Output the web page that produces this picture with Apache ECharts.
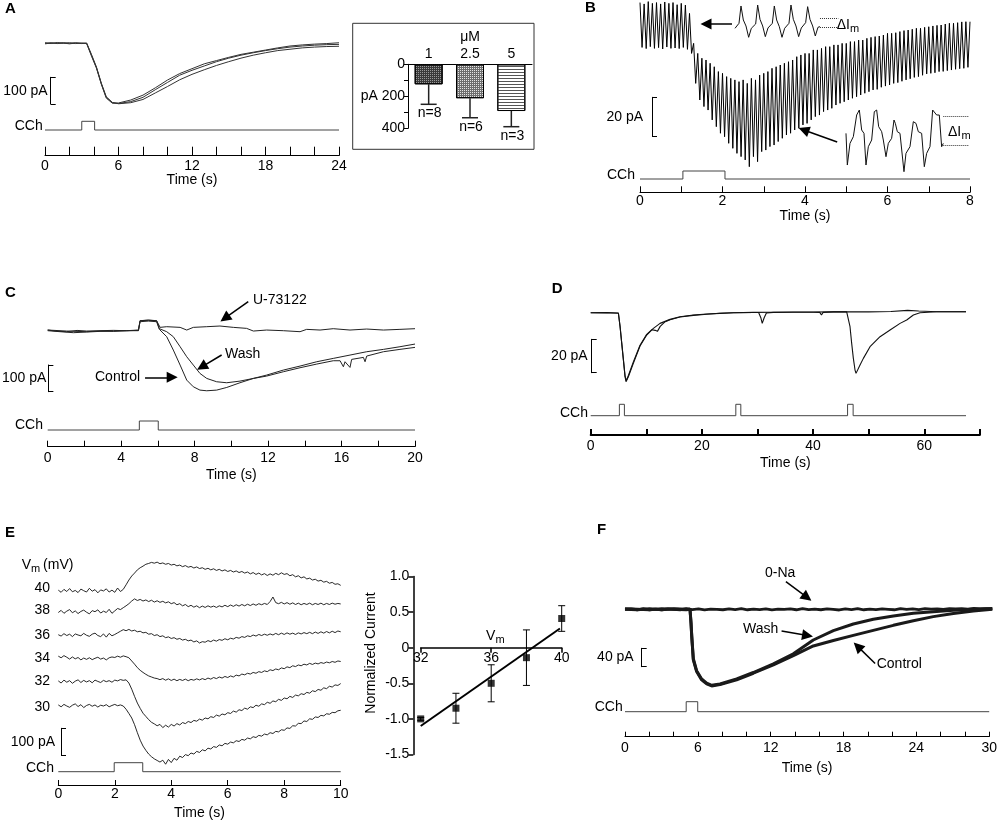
<!DOCTYPE html>
<html>
<head>
<meta charset="UTF-8">
<title>CCh-evoked currents</title>
<script src="https://cdn.jsdelivr.net/npm/echarts@6.0.0/dist/echarts.min.js"></script>
<style>
    * { margin: 0; padding: 0; }
    body { background: #fff; }
    #chart { width: 1000px; height: 822px; }
</style>
</head>
<body>
<div id="chart"></div>
<script>
// ---------------- data (t in s, current in pA) ----------------

// A: three superimposed responses
var A_TR1 = [[0,2],[0.5,-1],[1,3],[1.5,0],[2,2],[2.5,-1],[3,1],[3.4,0],[3.8,-45],[4.2,-90],[4.6,-150],[5.0,-200],[5.5,-220],[6,-223],[7,-216],[8,-200],[9,-172],[10,-145],[11,-118],[12,-100],[13,-84],[14,-68],[15,-55],[16,-44],[17,-35],[18,-27],[19,-20],[20,-14],[21,-10],[22,-7],[23,-5],[24,-4]];
var A_TR2 = [[0,0],[0.5,2],[1,-1],[1.5,1],[2,-2],[2.5,1],[3,-1],[3.4,1],[3.8,-42],[4.2,-88],[4.6,-148],[5.0,-198],[5.5,-219],[6,-224],[7,-220],[8,-208],[9,-184],[10,-160],[11,-135],[12,-115],[13,-98],[14,-82],[15,-68],[16,-55],[17,-44],[18,-35],[19,-27],[20,-22],[21,-17],[22,-14],[23,-12],[24,-11]];
var A_TR3 = [[0,-2],[0.5,1],[1,0],[1.5,2],[2,0],[2.5,2],[3,0],[3.4,-1],[3.8,-48],[4.2,-92],[4.6,-152],[5.0,-203],[5.5,-222],[6,-221],[7,-210],[8,-192],[9,-165],[10,-136],[11,-112],[12,-94],[13,-76],[14,-64],[15,-52],[16,-41],[17,-33],[18,-25],[19,-17],[20,-10],[21,-6],[22,-3],[23,-1],[24,2]];
var A_CCH = [[3.0, 4.05]];
// A inset: peak amplitude vs CCh concentration
var CONC = ['1', '2.5', '5'];
var AMP = [125, 212, 292];
var AMP_SE = [125, 122, 98];
var NCELLS = [8, 6, 3];

// B: oscillating current, spike tops / bottoms every 0.1 s
var B_DT = 0.1;
var B_TOP = [11.6,10.9,12.1,11.2,11.6,10.9,11.9,11.2,11.6,10.5,11.2,10.3,6.0,-9.5,-14.7,-17.2,-18.1,-19.8,-21.6,-24.1,-25.0,-26.7,-27.6,-28.4,-29.3,-28.4,-30.2,-27.6,-28.4,-25.9,-25.0,-24.1,-22.4,-21.6,-20.7,-19.8,-19.0,-18.1,-16.4,-15.5,-14.7,-14.7,-12.9,-12.9,-12.1,-11.2,-11.2,-10.3,-10.3,-9.5,-9.5,-8.6,-8.6,-7.8,-7.8,-6.9,-6.4,-6.0,-5.7,-5.2,-4.3,-4.3,-4.0,-3.4,-2.9,-2.6,-2.2,-1.7,-1.7,-1.2,-0.9,-0.5,-0.2,0,0.5,0.9,0.9,1.2,1.6,1.7,1.7];
var B_BOT = [-11.6,-12.2,-11.2,-12.1,-11.7,-12.4,-11.4,-12.1,-11.9,-12.2,-11.6,-12.6,-14.7,-30.2,-38.8,-42.2,-44.0,-49.1,-52.6,-56.0,-57.8,-61.2,-63.8,-66.4,-68.1,-69.8,-73.3,-68.1,-70.7,-65.5,-64.7,-62.9,-62.1,-60.3,-58.6,-56.9,-56.0,-54.3,-53.4,-51.7,-50.9,-49.1,-47.4,-46.6,-44.8,-44.0,-43.1,-41.4,-40.5,-39.7,-38.8,-37.9,-37.1,-36.2,-35.3,-34.5,-33.6,-33.3,-32.2,-31.6,-31.0,-30.2,-29.8,-29.1,-28.4,-27.8,-27.1,-26.7,-26.0,-25.3,-25.0,-24.7,-24.1,-24.0,-23.6,-23.3,-22.9,-22.6,-22.4,-21.9,-21.6];
var B_CCH = [[1.04, 2.06]];
// B insets: expanded stretches (ms, relative current)
var B_IN1_T = [0,24,36,50,66,82,98,124,136,150,166,182,198,224,236,250,266,282,298,324,336,350,366,382,398,424,436,450,466,482,498,510];
var B_IN1_V = [3.0,4.5,9.7,5.5,3.7,0.3,3.0,4.3,10,5.7,3.7,0.5,3.1,4.5,9.7,5.5,3.5,0.3,3.0,4.5,10,5.7,3.7,0.5,3.1,4.7,9.5,5.7,3.7,0.7,3.3,3.5];
var B_IN1_DI = [6.0, 3.3];
var B_IN2_T = [6,14,30,50,70,86,100,114,126,140,160,176,190,202,220,230,246,260,280,294,302,314,330,354,366,390,410,426,440,460,476,490,510,526,550,566,580,590];
var B_IN2_V = [11.5,2.0,8.5,10.5,17.0,18.5,12.5,11.5,2.0,7.5,9.5,18.0,18.5,13.5,12.0,9.5,4.5,8.5,10.0,15.5,14.5,12.0,11.5,0,5.5,7.5,15.0,14.5,12.0,11.5,1.5,5.5,7.5,18.5,17.0,17.0,7.5,8.5];
var B_IN2_DI = [16.5, 8.0];

// C: control, U-73122, wash
var C_CTRL = [[0,0],[0.67,-3.75],[1.40,-7.5],[2.12,-5],[2.85,-2.5],[3.58,-1.25],[4.30,0],[4.94,2.5],[5.03,33.75],[5.48,36],[5.93,33.75],[6.08,5],[6.48,-22.5],[6.84,-72.5],[7.21,-128.75],[7.57,-185],[7.93,-210],[8.29,-222.5],[8.66,-225],[9.20,-222.5],[9.75,-212.5],[10.47,-195],[11.20,-178.75],[11.92,-166.25],[12.83,-147.5],[13.74,-132.5],[14.65,-116.25],[15.55,-103.75],[16.46,-91.25],[17.37,-78.75],[18.28,-70],[19.18,-60],[20,-50]];
var C_WASH = [[0,2.5],[1.03,-1.25],[2.12,-3.75],[2.85,-1.25],[3.58,-2.5],[4.30,0],[4.94,1.25],[5.03,37.5],[5.48,40],[5.93,37.5],[6.08,7.5],[6.48,-3.75],[6.84,-22.5],[7.21,-60],[7.57,-97.5],[7.93,-128.75],[8.29,-160],[8.66,-178.75],[9.20,-191.25],[9.75,-195],[10.47,-188.75],[11.20,-178.75],[11.92,-170],[12.83,-153.75],[13.74,-138.75],[14.65,-125],[15.55,-112.5],[15.92,-112.5],[16.10,-135],[16.19,-116.25],[16.46,-137.5],[16.55,-107.5],[17.19,-100],[17.28,-116.25],[17.37,-95],[18.28,-78.75],[19.18,-70],[20,-62.5]];
var C_U73 = [[0,2.5],[0.5,-2],[1.03,-3.75],[1.6,1],[2.12,-1.25],[2.85,0],[3.58,1.25],[4.30,0],[4.94,0],[5.03,37.5],[5.48,39],[5.93,37.5],[6.12,12.5],[6.48,15],[7.21,12.5],[7.57,2.5],[7.93,12.5],[8.66,15],[9.38,17.5],[10.11,12.5],[10.83,8.75],[11.20,-1.25],[11.92,2.5],[12.83,0],[13.74,-3.75],[14.10,5],[14.83,2.5],[15.55,7.5],[16.46,2.5],[17.37,6.25],[18.28,2.5],[19.18,5],[20,7.5]];
var C_CCH = [[4.99, 6.02]];

// D: three CCh applications
var D_TR1 = [[0,0],[2.9,0.1],[4.98,-0.3],[5.28,-8.4],[5.58,-18.4],[5.88,-28.4],[6.18,-38.4],[6.35,-41.4],[6.77,-38.4],[7.67,-30.4],[8.87,-20],[10.07,-13.4],[11.27,-9.4],[12.47,-6.4],[14.27,-4],[16.07,-2.4],[18.47,-1.4],[20.86,-0.8],[23.26,-0.4],[25.66,0],[29.26,0.2],[32.85,0.3],[36.45,0.4],[40.05,0.4],[43.65,0.5],[46.04,0.5],[46.34,0],[46.64,-8.4],[46.94,-18.4],[47.24,-27.4],[47.54,-34.4],[47.72,-36.4],[48.44,-31.4],[49.04,-27.4],[50.24,-20.4],[52.04,-14.4],[53.84,-10.4],[55.64,-6.4],[56.83,-4.4],[58.03,-1.4],[59.23,0],[62.23,0.6],[67.5,0.6]];
var D_TR2 = [[0,0],[2.9,-0.1],[4.98,-0.2],[5.28,-8.0],[5.58,-18.0],[5.88,-28.0],[6.18,-38.0],[6.4,-40.8],[6.8,-37.5],[7.67,-29.5],[8.87,-19.5],[10.07,-13],[11.0,-10.2],[11.6,-10.6],[12.0,-11.2],[12.5,-8.2],[13.3,-5.6],[14.27,-4.2],[16.07,-2.6],[18.47,-1.6],[20.86,-0.9],[23.26,-0.3],[25.66,0],[29.26,0.1],[30.2,0.1],[30.6,-3],[30.85,-6.4],[31.2,-3],[31.6,-0.2],[32.85,0.2],[36.45,0.3],[40.05,0.3],[41.2,0.2],[41.5,-1.4],[41.8,0.2],[43.65,0.5],[46.04,0.5],[50,0.5],[54,0.7],[57,1.4],[59,1.0],[62.23,0.6],[67.5,0.6]];
var D_CCH = [[5.16, 6.06], [26.1, 27.0], [46.2, 47.2]];

// E: responses at different holding potentials, sampled every 0.1 s
var E_DT = 0.1;
var E_VM = [40, 38, 36, 34, 32, 30];
var E_40 = [2,-6,5,-3,8,-4,1,-7,6,0,-5,9,-2,4,-8,3,-1,7,-5,2,-6,10,-3,5,22,40,55,66,78,86,92,99,102,106,103,107,101,104,99,102,96,99,93,96,90,94,88,91,85,89,83,86,80,84,78,82,76,80,74,78,72,76,70,74,68,72,66,70,63,68,61,66,59,64,57,63,58,65,60,67,61,64,56,60,52,56,48,52,44,47,40,43,36,39,32,35,28,31,24,26,20];
var E_38 = [-3,5,-6,2,8,-4,3,-7,1,6,-2,-8,4,0,7,-5,2,-3,9,-6,3,12,8,15,22,30,40,48,42,46,40,44,38,43,36,41,35,39,33,37,30,34,26,30,22,27,19,24,17,22,15,21,16,22,17,21,16,22,18,24,19,25,20,26,21,27,22,28,23,29,24,30,26,31,27,38,55,34,30,35,29,34,28,33,27,32,26,31,27,32,26,31,27,32,26,31,27,32,28,31,29];
var E_36 = [1,-4,5,-2,3,-6,4,0,-3,6,-1,-5,3,7,-2,-6,4,-8,6,-3,2,8,14,20,16,21,15,18,12,14,8,10,3,5,-2,1,-6,-3,-10,-7,-13,-10,-16,-13,-19,-16,-22,-19,-26,-22,-30,-25,-27,-21,-25,-19,-23,-17,-20,-14,-18,-12,-15,-9,-12,-6,-9,-3,-6,0,-4,2,-2,3,-1,4,0,6,1,7,2,8,3,7,2,8,4,9,5,10,5,11,6,12,7,13,8,14,9,15,12];
var E_34 = [8,2,10,4,-3,5,-2,3,-6,1,-4,2,-5,0,4,-3,1,-6,2,5,3,8,4,9,6,2,-10,-22,-35,-45,-53,-60,-66,-70,-74,-76,-80,-76,-82,-77,-83,-78,-84,-79,-83,-78,-84,-79,-82,-77,-81,-76,-80,-74,-78,-72,-76,-70,-74,-68,-72,-66,-70,-63,-66,-59,-62,-56,-59,-53,-56,-50,-53,-47,-50,-43,-46,-40,-43,-36,-39,-32,-35,-28,-31,-25,-28,-22,-25,-19,-23,-18,-21,-16,-19,-14,-17,-12,-15,-10,-12];
var E_32 = [3,-5,6,-2,4,-6,2,7,-3,5,-1,4,-4,6,1,-3,5,0,4,-2,6,3,8,5,7,-5,-28,-55,-80,-100,-118,-130,-142,-152,-158,-165,-160,-172,-163,-170,-160,-166,-157,-162,-153,-157,-149,-153,-145,-148,-140,-144,-136,-139,-131,-134,-125,-129,-121,-124,-116,-119,-110,-114,-105,-108,-99,-103,-94,-97,-88,-92,-83,-86,-77,-81,-72,-75,-66,-70,-61,-64,-55,-59,-50,-53,-45,-48,-40,-43,-34,-37,-29,-32,-23,-26,-17,-20,-12,-14,-7];
var E_30 = [4,-3,6,0,-5,3,8,-2,5,-6,2,6,-1,4,-4,3,0,5,-3,2,6,1,4,0,-12,-28,-45,-70,-100,-128,-150,-166,-180,-190,-198,-204,-210,-203,-218,-200,-212,-196,-203,-188,-193,-182,-186,-176,-180,-170,-174,-164,-168,-158,-161,-152,-155,-146,-149,-140,-143,-135,-138,-130,-133,-125,-128,-120,-123,-115,-118,-110,-113,-105,-108,-100,-103,-95,-97,-89,-91,-82,-84,-74,-75,-65,-66,-56,-58,-48,-50,-41,-43,-35,-37,-29,-31,-24,-25,-18,-16];
var E_CCH = [[1.98, 2.99]];
// E inset: normalized current vs Vm
var VM = [32, 34, 36, 38, 40];
var NORM_I = [-1.0, -0.85, -0.5, -0.14, 0.41];
var NORM_SE = [0.02, 0.21, 0.26, 0.39, 0.18];
var FIT_X = [32, 39.9];
var FIT_Y = [-1.10, 0.27];

// F: control, 0-Na, wash
var F_DT = 0.5;
var F_0NA = [0,1,-1,1.5,-1,0.5,-1.5,1,0,-1,1.5,-0.5,1,-1.5,0.5,0,-1,1,-0.5,1.5,-1,0.5,-0.5,1,-1.5,0.5,0,1,-1,1.5,-0.5,0.5,-1,1,0,-1.5,1,-0.5,1.5,-1,0.5,-0.5,1,0,-1,1.5,0,1,-0.5,1.5,0.5,1,0,1.5,1,1.5,0.5,2,1,1.5,1];
var F_CTRL = [[0,0],[1,-1],[2,1],[3,-1],[4,1],[5,0],[5.31,0],[5.39,-30],[5.45,-59.6],[5.58,-110.5],[5.85,-136],[6.26,-154.2],[6.67,-162.9],[7.08,-167.3],[7.76,-164.4],[9.12,-154.2],[10.48,-139.6],[12.12,-121.5],[13.75,-101],[15.38,-80],[17.02,-68],[18.65,-57],[20.28,-46],[21.92,-35],[23.55,-25],[25.18,-16],[26.82,-9],[28.45,-3.6],[30,0]];
var F_WASH = [[0,1],[1,0],[2,-1],[3,1],[4,0],[5,-1],[5.31,0],[5.39,-28],[5.45,-57],[5.58,-108],[5.85,-134],[6.26,-152],[6.67,-161],[7.08,-166],[7.76,-163],[9.12,-152],[10.48,-138],[12.12,-119],[13.75,-97],[15.38,-67],[17.02,-46.5],[18.65,-32],[20.28,-21.8],[21.92,-14.5],[23.55,-8.7],[25.18,-5.1],[26.82,-2.2],[28.45,0],[30,1.5]];
var F_CCH = [[5.04, 5.99]];

// ---------------- helpers ----------------
var FONT = '"Liberation Sans", Arial, sans-serif';
var FAM = 'Liberation Sans';
var grids = [], xAxes = [], yAxes = [], series = [], graphics = [];

function hiddenAxis(min, max) {
    return { type: 'value', show: false, min: min, max: max };
}

function addGrid(box, xa, ya) {
    var i = grids.length;
    grids.push({ left: box.left, top: box.top, width: box.width, height: box.height });
    xa.gridIndex = i; ya.gridIndex = i;
    xAxes.push(xa); yAxes.push(ya);
    return i;
}

// trace area: zeroY = pixel row of 0 pA, k = pixels per pA
function traceGrid(left, width, tMax, top, height, zeroY, k) {
    return addGrid({ left: left, top: top, width: width, height: height },
        hiddenAxis(0, tMax),
        hiddenAxis((zeroY - top - height) / k, (zeroY - top) / k));
}

function arrowMarks(list) {
    return {
        silent: true, animation: false,
        symbol: ['none', 'triangle'], symbolSize: 11,
        itemStyle: { color: '#000' },
        label: { show: false },
        lineStyle: { color: '#000', width: 1.5, type: 'solid' },
        data: list.map(function (a) { return [{ coord: a[0] }, { coord: a[1] }]; })
    };
}

function dottedMarks(x0, x1, levels) {
    return {
        silent: true, animation: false, symbol: ['none', 'none'],
        label: { show: false },
        lineStyle: { color: '#333', width: 1, type: 'dotted' },
        data: levels.map(function (v) { return [{ coord: [x0, v] }, { coord: [x1, v] }]; })
    };
}

function trace(gi, data, width, color, extra) {
    var s = {
        type: 'line', xAxisIndex: gi, yAxisIndex: gi, data: data,
        symbol: 'none', showSymbol: false, clip: false, silent: true, animation: false,
        color: '#000', itemStyle: { color: '#000' },
        lineStyle: { color: color || '#111', width: width || 1 }
    };
    for (var k in extra) s[k] = extra[k];
    series.push(s);
    return s;
}

function sampled(values, dt) {
    return values.map(function (v, i) { return [+(i * dt).toFixed(3), v]; });
}

// CCh application line plus the time axis under it
function cchPanel(p) {
    var gi = addGrid({ left: p.left, top: p.top, width: p.width, height: p.base - p.top },
        {
            type: 'value', min: 0, max: p.tMax, interval: p.tick, position: 'bottom',
            offset: p.axisY - p.base,
            axisLine: { show: true, onZero: false, lineStyle: { color: '#000', width: p.lineW || 1 } },
            axisTick: { show: true, inside: true, length: p.tickLen, lineStyle: { color: '#000', width: p.lineW || 1 } },
            axisLabel: {
                color: '#000', fontSize: 14, fontFamily: FAM, margin: p.margin,
                formatter: function (v) {
                    var r = Math.round(v * 100), e = Math.round(p.labelEvery * 100);
                    return r % e === 0 ? String(Math.round(v)) : '';
                }
            },
            splitLine: { show: false },
            name: 'Time (s)', nameLocation: 'middle', nameGap: p.nameGap,
            nameTextStyle: { color: '#000', fontSize: 14, fontFamily: FAM }
        },
        hiddenAxis(0, 1));
    var d = [[0, 0]];
    p.pulses.forEach(function (pl) { d.push([pl[0], 0], [pl[0], 1], [pl[1], 1], [pl[1], 0]); });
    d.push([p.lineEnd, 0]);
    trace(gi, d, 1, '#444');
    txt(p.labelX, p.labelY, 'CCh', { align: 'right' });
}

function scaleBar(x, top, bottom, amount, label, gap) {
    addGrid({ left: x, top: top, width: 10, height: bottom - top },
        hiddenAxis(0, 1),
        {
            type: 'value', min: 0, max: amount, interval: amount, position: 'left',
            axisLine: { show: true, lineStyle: { color: '#000', width: 1 } },
            axisTick: { show: true, inside: true, length: 5, lineStyle: { color: '#000', width: 1 } },
            axisLabel: { show: false }, splitLine: { show: false },
            name: label, nameLocation: 'middle', nameRotate: 0, nameGap: gap,
            nameTextStyle: { color: '#000', fontSize: 14, fontFamily: FAM }
        });
}

function txt(x, y, s, o) {
    o = o || {};
    var al = o.align || 'left';
    graphics.push({
        type: 'text', x: x, y: y, rotation: o.rotation || 0, silent: true, z: 10,
        style: {
            text: s, fill: '#000',
            font: (o.bold ? 'bold ' : '') + (o.size || 14) + 'px ' + FONT,
            textAlign: al, textVerticalAlign: 'middle', align: al, verticalAlign: 'middle'
        }
    });
}

function subscripted(x, y, main, sub, tail, size) {
    size = size || 14;
    txt(x, y, main, { size: size });
    var w = main === 'V' ? 9.4 : 13.4;
    txt(x + w, y + 4, sub, { size: 11 });
    if (tail) txt(x + w + 12, y, tail, { size: size });
}

function errorBars(capHalf, color, width) {
    return function (params, api) {
        var x = api.value(0);
        var a = api.coord([x, api.value(1)]), b = api.coord([x, api.value(2)]);
        var st = { stroke: color, lineWidth: width };
        return {
            type: 'group', children: [
                { type: 'line', shape: { x1: a[0], y1: a[1], x2: b[0], y2: b[1] }, style: st },
                { type: 'line', shape: { x1: a[0] - capHalf, y1: a[1], x2: a[0] + capHalf, y2: a[1] }, style: st },
                { type: 'line', shape: { x1: b[0] - capHalf, y1: b[1], x2: b[0] + capHalf, y2: b[1] }, style: st }
            ]
        };
    };
}

// ---------------- panel A ----------------
txt(5, 8.5, 'A', { bold: true, size: 15 });
var gA = traceGrid(45, 294, 24, 30, 80, 43.3, 0.27);
trace(gA, A_TR1, 1, '#333');
trace(gA, A_TR2, 1, '#333');
trace(gA, A_TR3, 1, '#333');
scaleBar(50.7, 77.3, 104, 100, '100 pA', 3);
cchPanel({ left: 45, width: 294, tMax: 24, base: 130, top: 121.3, axisY: 155.7, tick: 2, labelEvery: 6,
    tickLen: 9, margin: 3, nameGap: 16, pulses: A_CCH, lineEnd: 24, labelX: 42.7, labelY: 126 });

// inset bar chart
graphics.push({ type: 'rect', silent: true, shape: { x: 352.7, y: 23.3, width: 181.3, height: 126 },
    style: { fill: 'none', stroke: '#333', lineWidth: 1 } });
var BAR_FILL = [
    { color: '#3a3a3a', borderColor: '#000', borderWidth: 1,
      decal: { symbol: 'rect', symbolSize: 1, dashArrayX: [1, 1], dashArrayY: [1, 1], color: '#9a9a9a' } },
    { color: '#6e6e6e', borderColor: '#000', borderWidth: 1,
      decal: { symbol: 'rect', symbolSize: 1, dashArrayX: [1, 1], dashArrayY: [1, 1], color: '#e6e6e6' } },
    { color: '#ffffff', borderColor: '#000', borderWidth: 1,
      decal: { symbol: 'rect', symbolSize: 1, dashArrayX: [1, 0], dashArrayY: [1, 1.5], color: '#555' } }
];
var gBar = addGrid({ left: 408, top: 64.3, width: 124, height: 64 },
    {
        type: 'category', data: CONC, position: 'top',
        axisLine: { show: true, onZero: false, lineStyle: { color: '#000', width: 1 } },
        axisTick: { show: false },
        axisLabel: { color: '#000', fontSize: 14, fontFamily: FAM, margin: 3 },
        name: 'μM', nameLocation: 'middle', nameGap: 20,
        nameTextStyle: { color: '#000', fontSize: 14, fontFamily: FAM }
    },
    {
        type: 'value', inverse: true, min: 0, max: 400, interval: 100,
        axisLine: { show: true, lineStyle: { color: '#000', width: 1 } },
        axisTick: { show: true, length: 4, lineStyle: { color: '#000' } },
        axisLabel: {
            color: '#000', fontSize: 14, fontFamily: FAM, margin: 3,
            formatter: function (v) { return v === 0 ? '0' : v === 200 ? 'pA 200' : v === 400 ? '400' : ''; }
        },
        splitLine: { show: false }
    });
series.push({
    type: 'bar', xAxisIndex: gBar, yAxisIndex: gBar, barWidth: 28, silent: true, animation: false,
    data: AMP.map(function (v, i) { return { value: v, itemStyle: BAR_FILL[i] }; })
});
series.push({
    type: 'custom', xAxisIndex: gBar, yAxisIndex: gBar, silent: true, animation: false, clip: false,
    encode: { x: 0, y: [1, 2] },
    data: AMP.map(function (v, i) { return [i, v, v + AMP_SE[i]]; }),
    renderItem: function (params, api) {
        var i = api.value(0);
        var a = api.coord([i, api.value(1)]), b = api.coord([i, api.value(2)]);
        var st = { stroke: '#222', lineWidth: 1.5 };
        return {
            type: 'group', children: [
                { type: 'line', shape: { x1: a[0], y1: a[1], x2: b[0], y2: b[1] }, style: st },
                { type: 'line', shape: { x1: b[0] - 8, y1: b[1], x2: b[0] + 8, y2: b[1] }, style: st },
                { type: 'text', x: b[0] + 1, y: b[1] + 9, style: {
                    text: 'n=' + NCELLS[params.dataIndex], fill: '#000', font: '14px ' + FONT,
                    textAlign: 'center', textVerticalAlign: 'middle', align: 'center', verticalAlign: 'middle' } }
            ]
        };
    }
});

// ---------------- panel B ----------------
txt(585, 8, 'B', { bold: true, size: 15 });
var gB = traceGrid(640, 330, 8, 0, 170, 25, 1.933);
var bData = [];
B_TOP.forEach(function (v, i) {
    bData.push([+(i * B_DT).toFixed(3), v]);
    if (i < B_TOP.length - 1) bData.push([+(i * B_DT + B_DT / 2).toFixed(3), B_BOT[i]]);
});
trace(gB, bData, 1, '#000', {
    markLine: arrowMarks([[[2.23, 0.52], [1.6, 0.52]], [[4.78, -60.5], [3.97, -54.3]]])
});
scaleBar(652, 97.3, 136, 20, '20 pA', 9);
cchPanel({ left: 640, width: 330, tMax: 8, base: 179, top: 171, axisY: 192.3, tick: 1, labelEvery: 2,
    tickLen: 6, margin: 2, nameGap: 15, pulses: B_CCH, lineEnd: 8, labelX: 635, labelY: 175 });
// insets
var gB1 = traceGrid(735, 103.3, 620, 5, 33.3, 38.3, 3.33);
trace(gB1, B_IN1_T.map(function (t, i) { return [t, B_IN1_V[i]]; }), 1, '#111', {
    markLine: dottedMarks(510, 620, B_IN1_DI)
});
subscripted(836.7, 25, 'ΔI', 'm');
var gB2 = traceGrid(845, 123.3, 740, 110, 61.7, 171.7, 3.335);
trace(gB2, B_IN2_T.map(function (t, i) { return [t, B_IN2_V[i]]; }), 1, '#111', {
    markLine: dottedMarks(590, 740, B_IN2_DI)
});
subscripted(948, 131.7, 'ΔI', 'm');

// ---------------- panel C ----------------
txt(5, 292.5, 'C', { bold: true, size: 15 });
var gC = traceGrid(47.7, 367.3, 20, 290, 110, 330.7, 0.267);
trace(gC, C_U73, 1, '#222', { markLine: arrowMarks([[[10.92, 108.6], [9.65, 46.8]]]) });
trace(gC, C_WASH, 1, '#222', { markLine: arrowMarks([[[9.47, -91], [8.39, -135.6]]]) });
trace(gC, C_CTRL, 1, '#222', { markLine: arrowMarks([[[5.30, -174.5], [6.78, -174.5]]]) });
txt(253, 300, 'U-73122');
txt(225, 354.3, 'Wash');
txt(95, 377.3, 'Control');
scaleBar(48.3, 365, 391.7, 100, '100 pA', 2);
cchPanel({ left: 47.7, width: 367.3, tMax: 20, base: 430, top: 421, axisY: 446.7, tick: 2, labelEvery: 4,
    tickLen: 6, margin: 4, nameGap: 21, pulses: C_CCH, lineEnd: 20, labelX: 43, labelY: 425 });

// ---------------- panel D ----------------
txt(551.7, 289, 'D', { bold: true, size: 15 });
var gD = traceGrid(590.7, 389.2, 70, 300, 90, 312.7, 1.667);
trace(gD, D_TR1, 1.1, '#111');
trace(gD, D_TR2, 1.1, '#111');
scaleBar(591.7, 339.3, 372.7, 20, '20 pA', 4);
cchPanel({ left: 590.7, width: 389.2, tMax: 70, base: 415.7, top: 404.3, axisY: 435, tick: 10, labelEvery: 20,
    tickLen: 6, margin: 4.5, nameGap: 21, lineW: 2, pulses: D_CCH, lineEnd: 67.5, labelX: 588, labelY: 412.7 });

// ---------------- panel E ----------------
txt(5, 532.5, 'E', { bold: true, size: 15 });
var E_TRACES = [E_40, E_38, E_36, E_34, E_32, E_30];
var E_ZERO = [590.7, 611.7, 635, 658.3, 681.7, 706];
var E_LABEL_Y = [588.3, 610, 635, 657.7, 681, 706.7];
E_TRACES.forEach(function (vals, i) {
    var g = traceGrid(58.3, 282.4, 10, E_ZERO[i] - 40, 100, E_ZERO[i], 0.267);
    trace(g, sampled(vals, E_DT), 0.9, '#111');
    txt(50, E_LABEL_Y[i], String(E_VM[i]), { align: 'right' });
});
subscripted(21.7, 565, 'V', 'm', '(mV)');
scaleBar(61, 728.3, 755, 100, '100 pA', 6);
cchPanel({ left: 58.3, width: 282.4, tMax: 10, base: 771.7, top: 762.7, axisY: 785, tick: 2, labelEvery: 2,
    tickLen: 5, margin: 2, nameGap: 21, pulses: E_CCH, lineEnd: 10, labelX: 54, labelY: 767.7 });

// inset: normalized current vs Vm
addGrid({ left: 413.3, top: 576.5, width: 1, height: 178 },
    hiddenAxis(0, 1),
    {
        type: 'value', min: -1.5, max: 1.0, interval: 0.5,
        axisLine: { show: true, lineStyle: { color: '#000', width: 1.5 } },
        axisTick: { show: true, length: 5, lineStyle: { color: '#000', width: 1.5 } },
        axisLabel: {
            color: '#000', fontSize: 14, fontFamily: FAM, margin: 4,
            formatter: function (v) { return Math.abs(v) < 1e-9 ? '0' : v.toFixed(1); }
        },
        splitLine: { show: false }
    });
txt(371, 653, 'Normalized Current', { align: 'center', rotation: Math.PI / 2 });
var gIn = addGrid({ left: 420.7, top: 576.5, width: 141, height: 178 },
    {
        type: 'value', min: 32, max: 40, interval: 4, position: 'bottom', offset: -(754.5 - 647.7),
        axisLine: { show: true, onZero: false, lineStyle: { color: '#000', width: 1.5 } },
        axisTick: { show: true, length: 5, lineStyle: { color: '#000', width: 1.5 } },
        axisLabel: { color: '#000', fontSize: 14, fontFamily: FAM, margin: 3 },
        splitLine: { show: false }
    },
    hiddenAxis(-1.5, 1.0));
subscripted(486, 636, 'V', 'm');
trace(gIn, [[FIT_X[0], FIT_Y[0]], [FIT_X[1], FIT_Y[1]]], 2, '#000');
series.push({
    type: 'custom', xAxisIndex: gIn, yAxisIndex: gIn, silent: true, animation: false, clip: false,
    encode: { x: 0, y: [1, 2] },
    data: VM.map(function (v, i) { return [v, NORM_I[i] - NORM_SE[i], NORM_I[i] + NORM_SE[i]]; }),
    renderItem: errorBars(3.5, '#000', 1)
});
series.push({
    type: 'scatter', xAxisIndex: gIn, yAxisIndex: gIn, silent: true, animation: false,
    symbol: 'rect', symbolSize: 7, itemStyle: { color: '#000' },
    data: VM.map(function (v, i) { return [v, NORM_I[i]]; })
});

// ---------------- panel F ----------------
txt(597, 530, 'F', { bold: true, size: 15 });
var gF = traceGrid(625, 367.3, 30, 570, 120, 609.3, 0.458);
trace(gF, sampled(F_0NA, F_DT), 2.8, '#1a1a1a', { markLine: arrowMarks([[[13.14, 60.3], [14.87, 26.0]]]) });
trace(gF, F_CTRL, 3, '#1a1a1a', { markLine: arrowMarks([[[20.43, -118.3], [19.0, -80.9]]]) });
trace(gF, F_WASH, 3, '#1a1a1a', { markLine: arrowMarks([[[12.79, -47.6], [14.91, -57.2]]]) });
txt(765, 573.3, '0-Na');
txt(743, 629.3, 'Wash');
txt(876.7, 664, 'Control');
scaleBar(641.7, 648.3, 666.7, 40, '40 pA', 8);
cchPanel({ left: 625, width: 367.3, tMax: 30, base: 711.7, top: 701.7, axisY: 736.7, tick: 2, labelEvery: 6,
    tickLen: 5, margin: 4.5, nameGap: 24.5, pulses: F_CCH, lineEnd: 30, labelX: 622.7, labelY: 706.7 });

// ---------------- render ----------------
var chart = echarts.init(document.getElementById('chart'));
chart.setOption({
    animation: false,
    backgroundColor: '#fff',
    textStyle: { fontFamily: FAM },
    grid: grids,
    xAxis: xAxes,
    yAxis: yAxes,
    series: series,
    graphic: { elements: graphics }
});
</script>
</body>
</html>
